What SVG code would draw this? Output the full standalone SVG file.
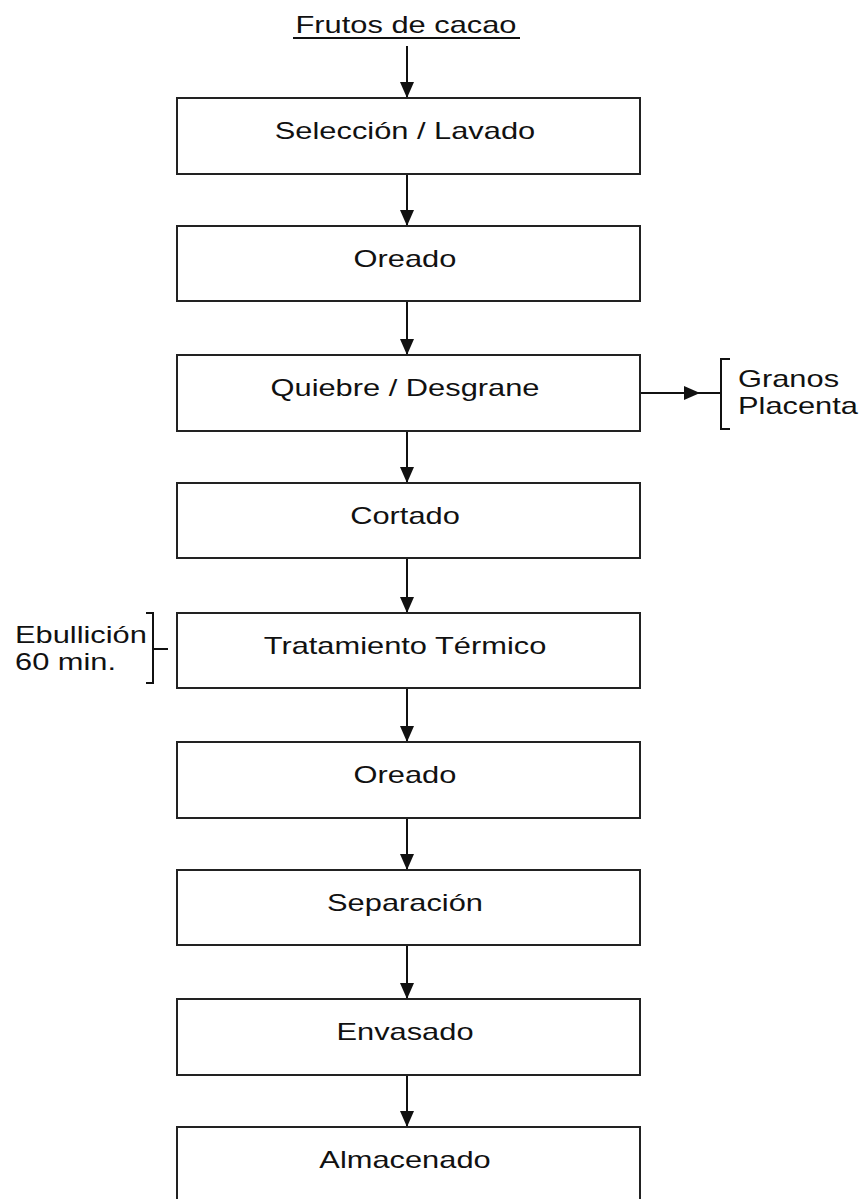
<svg xmlns="http://www.w3.org/2000/svg" width="863" height="1199" viewBox="0 0 863 1199">
<style>
  .box { fill: #fff; stroke: #222; stroke-width: 2; }
  .ln { stroke: #111; stroke-width: 2; fill: none; }
  .t { font-family: "Liberation Sans", Arial, sans-serif; font-size: 23px; fill: #111; }
  .c { text-anchor: middle; }
</style>
<defs>
  <marker id="ah" markerUnits="userSpaceOnUse" markerWidth="16" markerHeight="14" refX="16" refY="7" orient="auto">
    <path d="M0,0 L16,7 L0,14 z" fill="#111"/>
  </marker>
</defs>
<rect width="863" height="1199" fill="#fff"/>

<g id="title">
  <text class="t c" transform="translate(406,33) scale(1.34,1)">Frutos de cacao</text>
  <line class="ln" x1="293" y1="38" x2="520" y2="38"/>
</g>

<g id="connectors">
  <line class="ln" x1="407" y1="46" x2="407" y2="98" marker-end="url(#ah)"/>
  <line class="ln" x1="407" y1="174" x2="407" y2="226" marker-end="url(#ah)"/>
  <line class="ln" x1="407" y1="301" x2="407" y2="355" marker-end="url(#ah)"/>
  <line class="ln" x1="407" y1="431" x2="407" y2="483" marker-end="url(#ah)"/>
  <line class="ln" x1="407" y1="558" x2="407" y2="613" marker-end="url(#ah)"/>
  <line class="ln" x1="407" y1="688" x2="407" y2="742" marker-end="url(#ah)"/>
  <line class="ln" x1="407" y1="818" x2="407" y2="870" marker-end="url(#ah)"/>
  <line class="ln" x1="407" y1="945" x2="407" y2="999" marker-end="url(#ah)"/>
  <line class="ln" x1="407" y1="1075" x2="407" y2="1127" marker-end="url(#ah)"/>
  <line class="ln" x1="640" y1="393" x2="700" y2="393" marker-end="url(#ah)"/>
  <line class="ln" x1="700" y1="393" x2="721" y2="393"/>
  <line class="ln" x1="153" y1="649" x2="168" y2="649"/>
</g>

<g id="n1"><rect class="box" x="177" y="98" width="463" height="76"/><text class="t c" transform="translate(405,139) scale(1.34,1)">Selección / Lavado</text></g>
<g id="n2"><rect class="box" x="177" y="226" width="463" height="75"/><text class="t c" transform="translate(405,267) scale(1.34,1)">Oreado</text></g>
<g id="n3"><rect class="box" x="177" y="355" width="463" height="76"/><text class="t c" transform="translate(405,396) scale(1.34,1)">Quiebre / Desgrane</text></g>
<g id="n4"><rect class="box" x="177" y="483" width="463" height="75"/><text class="t c" transform="translate(405,524) scale(1.34,1)">Cortado</text></g>
<g id="n5"><rect class="box" x="177" y="613" width="463" height="75"/><text class="t c" transform="translate(405,654) scale(1.34,1)">Tratamiento Térmico</text></g>
<g id="n6"><rect class="box" x="177" y="742" width="463" height="76"/><text class="t c" transform="translate(405,783) scale(1.34,1)">Oreado</text></g>
<g id="n7"><rect class="box" x="177" y="870" width="463" height="75"/><text class="t c" transform="translate(405,911) scale(1.34,1)">Separación</text></g>
<g id="n8"><rect class="box" x="177" y="999" width="463" height="76"/><text class="t c" transform="translate(405,1040) scale(1.34,1)">Envasado</text></g>
<g id="n9"><rect class="box" x="177" y="1127" width="463" height="76"/><text class="t c" transform="translate(405,1168) scale(1.34,1)">Almacenado</text></g>

<g id="byproducts">
  <path class="ln" d="M730,359 H721 V429 H730"/>
  <text class="t" transform="translate(738,387) scale(1.34,1)">Granos</text>
  <text class="t" transform="translate(738,414) scale(1.34,1)">Placenta</text>
</g>

<g id="conditions">
  <path class="ln" d="M146,613 H153 V683 H146"/>
  <text class="t" transform="translate(15,643) scale(1.34,1)">Ebullición</text>
  <text class="t" transform="translate(15,670) scale(1.34,1)">60 min.</text>
</g>
</svg>
